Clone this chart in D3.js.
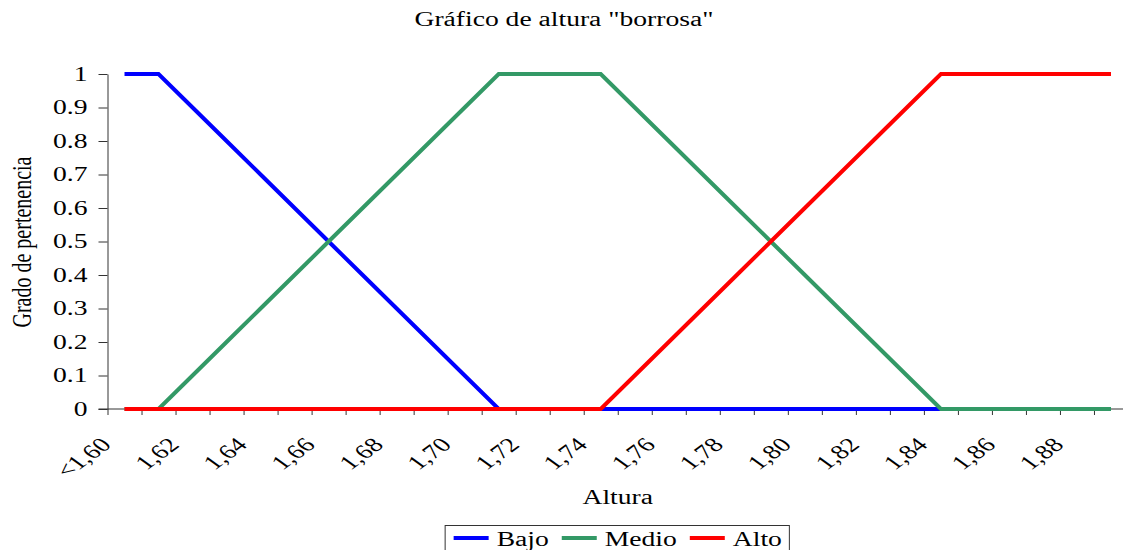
<!DOCTYPE html>
<html>
<head>
<meta charset="utf-8">
<script src="https://cdn.jsdelivr.net/npm/d3@7"></script>
<style>
  body { margin: 0; background: #fff; }
  text { font-family: "Liberation Serif", "Times New Roman", serif; fill: #000; }
</style>
</head>
<body>
<div id="chart"></div>
<script>
// categories (altura) and membership degrees
const categories = ["<1,60", "1,61", "1,62", "1,63", "1,64", "1,65", "1,66", "1,67", "1,68", "1,69",
  "1,70", "1,71", "1,72", "1,73", "1,74", "1,75", "1,76", "1,77", "1,78", "1,79",
  "1,80", "1,81", "1,82", "1,83", "1,84", "1,85", "1,86", "1,87", "1,88", "1,89"];
const bajo = [1, 1, 0.9, 0.8, 0.7, 0.6, 0.5, 0.4, 0.3, 0.2, 0.1, 0, 0, 0, 0,
  0, 0, 0, 0, 0, 0, 0, 0, 0, 0, 0, 0, 0, 0, 0];
const medio = [0, 0, 0.1, 0.2, 0.3, 0.4, 0.5, 0.6, 0.7, 0.8, 0.9, 1, 1, 1, 1,
  0.9, 0.8, 0.7, 0.6, 0.5, 0.4, 0.3, 0.2, 0.1, 0, 0, 0, 0, 0, 0];
const alto = [0, 0, 0, 0, 0, 0, 0, 0, 0, 0, 0, 0, 0, 0, 0,
  0.1, 0.2, 0.3, 0.4, 0.5, 0.6, 0.7, 0.8, 0.9, 1, 1, 1, 1, 1, 1];
const seriesNames = ["Bajo", "Medio", "Alto"];
const seriesColors = ["#0000ff", "#339966", "#ff0000"];
const yTicks = [0, 0.1, 0.2, 0.3, 0.4, 0.5, 0.6, 0.7, 0.8, 0.9, 1];

const width = 1123, height = 550;
const margin = { top: 74, right: -5, bottom: 141, left: 107.5 };
const SX = 1.38; // the original picture is stretched horizontally

const svg = d3.select("#chart").append("svg")
  .attr("width", width)
  .attr("height", height);

const x = d3.scaleBand()
  .domain(categories)
  .range([margin.left, width - margin.right])
  .padding(0);
const xEdge = d3.scaleLinear()
  .domain([0, categories.length])
  .range([margin.left, width - margin.right]);
const y = d3.scaleLinear()
  .domain([0, 1])
  .range([height - margin.bottom, margin.top]);
const y0 = y(0);

// title
svg.append("text")
  .attr("transform", `translate(564,26) scale(${SX},1)`)
  .attr("text-anchor", "middle")
  .style("font-size", "20px")
  .text("Gráfico de altura \"borrosa\"");

// y axis
const yAxis = svg.append("g")
  .attr("transform", `translate(${margin.left},0)`)
  .call(d3.axisLeft(y).tickValues(yTicks).tickFormat(d => String(d)).tickSize(9).tickSizeOuter(0));
yAxis.select(".domain").attr("stroke", "#333");
yAxis.selectAll(".tick line").attr("stroke", "#333");
yAxis.selectAll(".tick text")
  .attr("x", -20 / SX)
  .attr("transform", `scale(${SX},1)`)
  .style("font-family", "\"Liberation Serif\", serif")
  .style("font-size", "20px")
  .attr("fill", "#000");

// x axis: ticks between categories
const xAxis = svg.append("g")
  .attr("transform", `translate(0,${y0})`)
  .call(d3.axisBottom(xEdge).tickValues(d3.range(0, categories.length + 1)).tickFormat("").tickSize(6).tickSizeOuter(0));
xAxis.select(".domain").remove();
xAxis.selectAll(".tick line").attr("stroke", "#333");
svg.append("line")
  .attr("x1", margin.left - 9).attr("x2", width)
  .attr("y1", y0).attr("y2", y0)
  .attr("stroke", "#333");

// category labels every second category, rotated
const labelCats = categories.filter((d, i) => i % 2 === 0);
svg.append("g").selectAll("text")
  .data(labelCats)
  .join("text")
  .attr("transform", d => `translate(${x(d) + x.bandwidth() / 2 - 12},${y0 + 37}) scale(${SX},1) rotate(-45)`)
  .attr("text-anchor", "end")
  .style("font-size", "20px")
  .text(d => d);

// axis titles
svg.append("text")
  .attr("transform", `translate(${(margin.left + width - margin.right) / 2},504) scale(${SX},1)`)
  .attr("text-anchor", "middle")
  .style("font-size", "20px")
  .text("Altura");
svg.append("text")
  .attr("transform", `translate(31,242) scale(${SX},1) rotate(-90)`)
  .attr("text-anchor", "middle")
  .style("font-size", "20px")
  .text("Grado de pertenencia");

// lines
const line = d3.line()
  .x((d, i) => x(categories[i]) + x.bandwidth() / 2)
  .y(d => y(d));
[bajo, medio, alto].forEach((values, k) => {
  svg.append("path")
    .datum(values)
    .attr("fill", "none")
    .attr("stroke", seriesColors[k])
    .attr("stroke-width", 4)
    .attr("stroke-linejoin", "miter")
    .attr("d", line);
});

// legend
const legend = svg.append("g");
const legendY = 538;
let cx = 0;
const items = [];
seriesNames.forEach((name, k) => {
  const g = legend.append("g");
  g.append("line")
    .attr("x1", cx).attr("x2", cx + 35)
    .attr("y1", legendY).attr("y2", legendY)
    .attr("stroke", seriesColors[k])
    .attr("stroke-width", 4);
  const t = g.append("text")
    .attr("transform", `translate(${cx + 43},546) scale(${SX},1)`)
    .style("font-size", "20px")
    .text(name);
  const w = t.node().getComputedTextLength() * SX;
  cx += 43 + w + 13;
});
const legendW = cx - 13;
const legendX = (margin.left + width - margin.right) / 2 - (legendW + 16) / 2;
legend.attr("transform", `translate(${legendX + 8},0)`);
legend.insert("rect", ":first-child")
  .attr("x", -8.5).attr("y", 525.5)
  .attr("width", legendW + 16).attr("height", 40)
  .attr("fill", "#fff")
  .attr("stroke", "#333");
</script>
</body>
</html>
